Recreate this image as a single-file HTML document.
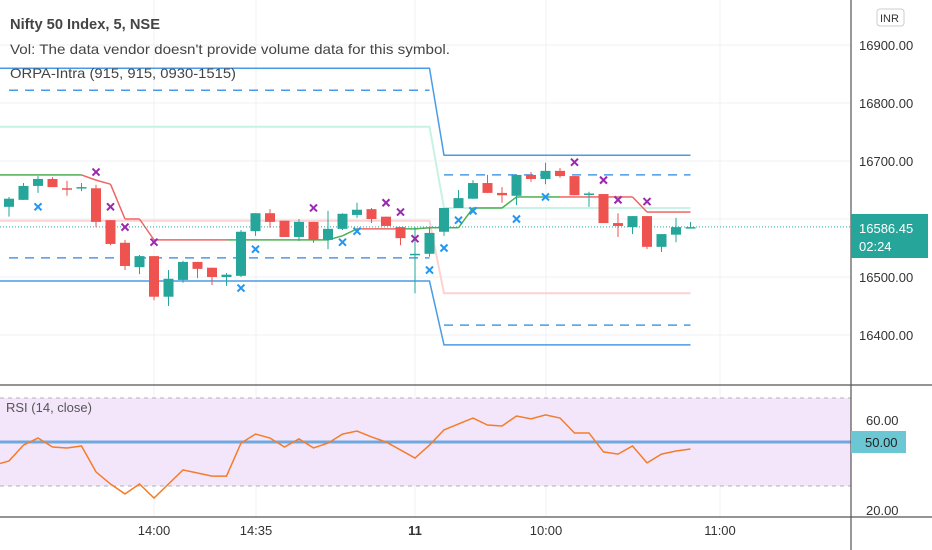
<!DOCTYPE html>
<html><head><meta charset="utf-8"><style>
body{margin:0;background:#fff;}
svg{display:block;font-family:"Liberation Sans",sans-serif;}
</style></head><body>
<svg id="c" width="932" height="550"></svg>
<script>
const candles=[[16621,16638,16604,16635],[16633,16662,16633,16657],[16657,16674,16645,16669],[16669,16672,16655,16655],[16653,16666,16640,16652],[16653,16662,16648,16655],[16653,16659,16586,16595],[16598,16598,16555,16557],[16559,16564,16512,16519],[16517,16538,16505,16536],[16536,16536,16460,16466],[16466,16512,16450,16497],[16495,16528,16490,16526],[16526,16526,16498,16514],[16516,16516,16486,16500],[16500,16507,16485,16504],[16502,16581,16500,16578],[16579,16610,16571,16610],[16610,16617,16585,16595],[16597,16597,16569,16569],[16569,16600,16562,16595],[16595,16595,16559,16564],[16564,16614,16548,16583],[16583,16610,16581,16609],[16607,16628,16602,16616],[16617,16619,16593,16600],[16604,16604,16588,16588],[16586,16586,16555,16567],[16538,16586,16472,16540],[16540,16585,16535,16576],[16578,16619,16571,16619],[16619,16650,16619,16636],[16635,16667,16635,16662],[16662,16676,16645,16645],[16645,16655,16628,16641],[16640,16676,16624,16676],[16676,16681,16664,16669],[16669,16697,16660,16683],[16683,16688,16671,16674],[16674,16674,16641,16641],[16643,16647,16621,16644],[16643,16643,16593,16593],[16593,16610,16569,16588],[16586,16605,16574,16605],[16605,16605,16548,16552],[16552,16574,16543,16574],[16573,16602,16560,16586],[16585,16595,16585,16586]];
const day1Levels=[16860,16822,16759,16597,16533,16493];
const day2Levels=[16710,16676,16619,16472,16417,16383];
const trail=[16676,16676,16676,16676,16676,16676,16676,16667,16660,16600,16600,16564,16564,16564,16564,16564,16564,16564,16564,16564,16564,16564,16564,16564,16571,16583,16583,16583,16583,16583,16585,16585,16585,16619,16619,16619,16638,16638,16638,16638,16638,16638,16638,16638,16638,16612,16612,16612,16612];
const trailDir=[1,1,1,1,1,1,1,-1,-1,-1,-1,-1,-1,-1,-1,-1,-1,1,1,1,1,1,1,1,1,1,-1,-1,-1,1,1,1,1,1,1,1,1,1,1,1,-1,-1,-1,-1,-1,-1,-1,-1,-1];
const purpleIdx=[6,7,8,10,21,26,27,28,39,41,42,44];
const purpleVal=[16681,16621,16586,16560,16619,16628,16612,16566,16698,16667,16633,16630];
const blueIdx=[2,16,17,23,24,29,30,31,32,35,37];
const blueVal=[16621,16481,16548,16560,16579,16512,16550,16598,16614,16600,16638];
const rsi=[39.5,41.4,48.6,51.8,47.7,47.3,48.2,36.4,30.9,26.4,30.9,24.5,30.9,37.3,35.9,34.5,34.5,49.5,53.6,51.8,47.7,51.4,47.3,49.5,53.6,55.0,52.3,50.0,46.4,42.7,48.6,55.5,58.2,60.9,57.7,57.3,61.8,60.5,62.3,60.9,54.1,54.1,45.5,44.5,48.2,40.5,44.5,45.9,46.8];
const priceTicks=[16900,16800,16700,16600,16500,16400];
const timeLabels=["14:00","14:35","11","10:00","11:00"];
const timeX=[154,256,415,546,720];
const lastPrice=16586.45;

const S=document.getElementById('c');const NS='http://www.w3.org/2000/svg';
function el(t,a,txt){const e=document.createElementNS(NS,t);for(const k in a)e.setAttribute(k,a[k]);if(txt!==undefined)e.textContent=txt;S.appendChild(e);return e;}
const xI=i=>9+14.5*i, yP=p=>45+(16900-p)*0.58, yR=r=>442-(r-50)*2.2;
const G='#26a69a',R='#ef5350';
priceTicks.forEach(p=>{const g=el('line',{x1:0,x2:851,y1:yP(p),y2:yP(p),stroke:'#eef0f4'});
});
timeX.forEach(x=>{const g=el('line',{x1:x,x2:x,y1:0,y2:517,stroke:'#eef0f4'});
});
let b=el('rect',{x:0,y:yR(70),width:851,height:yR(30)-yR(70),fill:'#f3e6fb'});

[70,30].forEach(v=>{const l=el('line',{x1:0,x2:851,y1:yR(v),y2:yR(v),stroke:'#b0b0b8','stroke-dasharray':'4 4'});
});
let ml=el('line',{x1:0,x2:851,y1:yR(50),y2:yR(50),stroke:'#6fa8dc','stroke-width':3});

const lvlStyle=[['#4a9be6',1.5,''],['#4a9be6',1.5,'9 7'],['#c8f2e3',2,''],['#fcd2d2',2,''],['#4a9be6',1.5,'9 7'],['#4a9be6',1.5,'']];
const lvlNames=['orb-high','orb-high-target','upper-band','lower-band','orb-low-target','orb-low'];
lvlStyle.forEach((s,k)=>{
 let pts;
 if(s[2])pts=[[xI(0),day1Levels[k]],[xI(29),day1Levels[k]]];
 else pts=[[xI(-1),day1Levels[k]],[xI(29),day1Levels[k]],[xI(30),day2Levels[k]],[xI(47),day2Levels[k]]];
 let d=pts.map((p,j)=>(j?'L':'M')+p[0]+' '+yP(p[1])).join('');
 let e=el('path',{d:d,fill:'none',stroke:s[0],'stroke-width':s[1],'stroke-dasharray':s[2]});
 
 if(s[2]){let e2=el('path',{d:'M'+xI(30)+' '+yP(day2Levels[k])+'L'+xI(47)+' '+yP(day2Levels[k]),fill:'none',stroke:s[0],'stroke-width':s[1],'stroke-dasharray':s[2]});
 }
});
for(let i=1;i<trail.length;i++){
 const s=el('line',{x1:xI(i-2),y1:yP(trail[i-1]),x2:xI(i-1),y2:yP(trail[i]),stroke:trailDir[i]>0?'#4caf50':'#f06464','stroke-width':1.5});
 
}
let lp=el('line',{x1:0,x2:851,y1:yP(lastPrice),y2:yP(lastPrice),stroke:G,'stroke-dasharray':'1 2'});

candles.forEach((c,i)=>{
 const [o,h,l,cl]=c,col=cl>=o?G:R,x=xI(i);
 const w=el('line',{x1:x,x2:x,y1:yP(h),y2:yP(l),stroke:col,'stroke-width':1});
 
 const t=Math.min(yP(o),yP(cl)),hh=Math.max(1.5,Math.abs(yP(o)-yP(cl)));
 const r=el('rect',{x:x-5,y:t,width:10,height:hh,fill:col});
 
});
function cross(i,v,col,name){const x=xI(i),y=yP(v),s=3.5;
 const p=el('path',{d:`M${x-s} ${y-s}L${x+s} ${y+s}M${x+s} ${y-s}L${x-s} ${y+s}`,stroke:col,'stroke-width':2});
 }
purpleIdx.forEach((i,k)=>cross(i,purpleVal[k],'#9c27b0','sell-signal-marker'));
blueIdx.forEach((i,k)=>cross(i,blueVal[k],'#2196f3','buy-signal-marker'));
let rd=rsi.map((v,j)=>(j?'L':'M')+xI(j-1)+' '+yR(v)).join('');
let rl=el('path',{d:rd,fill:'none',stroke:'#f57c2a','stroke-width':1.5});

el('rect',{x:851,y:0,width:81,height:550,fill:'#fff'});
priceTicks.forEach(p=>{const t=el('text',{x:859,y:yP(p)+5,'font-size':13,fill:'#333'},p.toFixed(2));
});
[[60,420],[20,510]].forEach(a=>{const t=el('text',{x:866,y:a[1]+5,'font-size':13,fill:'#333'},a[0].toFixed(2));
});
el('rect',{x:852,y:518,width:80,height:32,fill:'#fff'});
[[851,0,851,550],[0,385,932,385],[0,517,932,517]].forEach(a=>{const l=el('line',{x1:a[0],y1:a[1],x2:a[2],y2:a[3],stroke:'#555','stroke-width':1.2});
});
let rb=el('rect',{x:851,y:431,width:55,height:22,fill:'#6cc7d4'});

el('text',{x:865,y:447,'font-size':13,fill:'#222'},'50.00');
let pb=el('rect',{x:851,y:214,width:77,height:44,fill:G});

el('text',{x:859,y:233,'font-size':13,fill:'#fff'},lastPrice.toFixed(2));
el('text',{x:859,y:251,'font-size':13,fill:'#fff'},'02:24');
let ib=el('rect',{x:877,y:9,width:27,height:17,rx:3,fill:'#fff',stroke:'#ccc'});

el('text',{x:880,y:22,'font-size':11,fill:'#333'},'INR');
timeLabels.forEach((s,k)=>{const t=el('text',{x:timeX[k],y:535,'font-size':13,fill:'#333','text-anchor':'middle','font-weight':s==='11'?'bold':'normal'},s);
});
[['Nifty 50 Index, 5, NSE',29,15,'bold','symbol-title',150],["Vol: The data vendor doesn't provide volume data for this symbol.",54,14,'normal','volume-legend',440],['ORPA-Intra (915, 915, 0930-1515)',78,14,'normal','indicator-legend',226]].forEach(a=>{
 const t=el('text',{x:10,y:a[1],'font-size':a[2],'font-weight':a[3],fill:'#444',textLength:a[5],lengthAdjust:'spacingAndGlyphs'},a[0]);
 });
let rt=el('text',{x:6,y:412,'font-size':13,fill:'#555'},'RSI (14, close)');

</script>
</body></html>
